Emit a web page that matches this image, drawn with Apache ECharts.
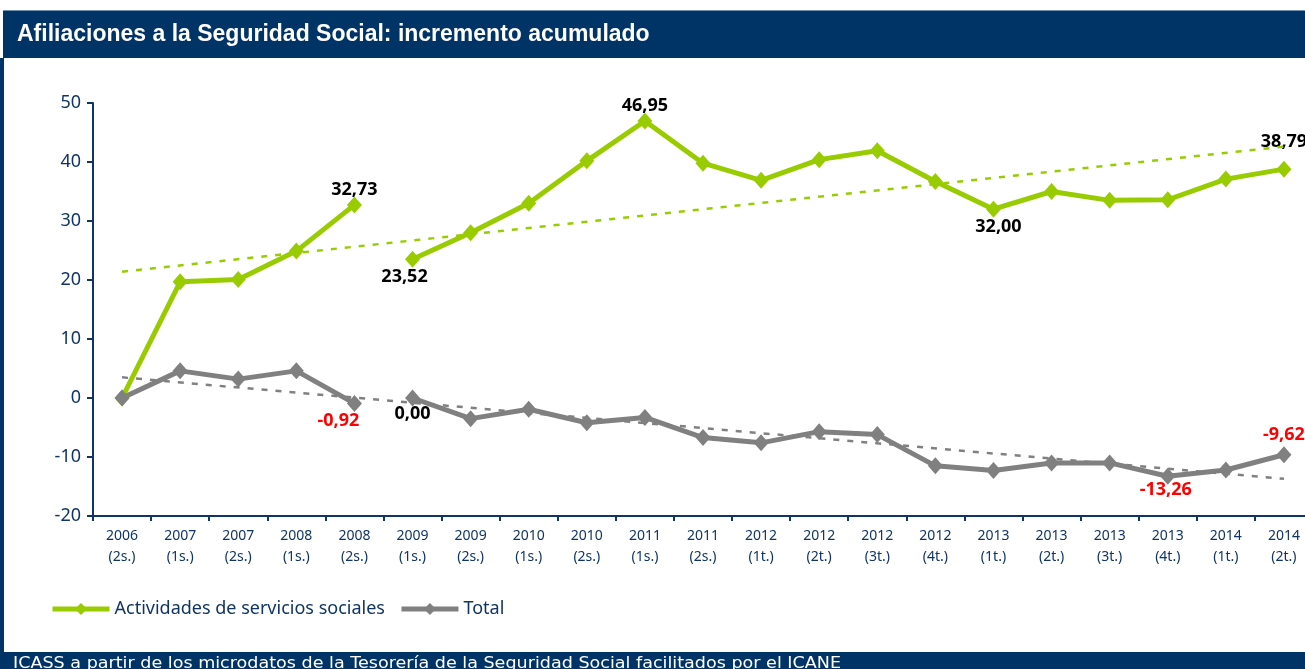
<!DOCTYPE html>
<html>
<head>
<meta charset="utf-8">
<script src="https://cdn.jsdelivr.net/npm/echarts@6/dist/echarts.min.js"></script>
<style>
html,body{margin:0;padding:0;background:#fff;}
#c{width:1305px;height:669px;}
</style>
</head>
<body>
<div id="c"></div>
<script>
// ---- data ----
const categories = ['2006\n(2s.)','2007\n(1s.)','2007\n(2s.)','2008\n(1s.)','2008\n(2s.)','2009\n(1s.)','2009\n(2s.)','2010\n(1s.)','2010\n(2s.)','2011\n(1s.)','2011\n(2s.)','2012\n(1t.)','2012\n(2t.)','2012\n(3t.)','2012\n(4t.)','2013\n(1t.)','2013\n(2t.)','2013\n(3t.)','2013\n(4t.)','2014\n(1t.)','2014\n(2t.)'];
const socialServices = [0, 19.7, 20.1, 24.9, 32.73, 23.52, 28.0, 33.0, 40.2, 46.95, 39.8, 36.9, 40.4, 41.9, 36.7, 32.00, 35.0, 33.5, 33.6, 37.1, 38.79];
const total = [0, 4.6, 3.2, 4.6, -0.92, 0.00, -3.5, -1.9, -4.2, -3.3, -6.7, -7.6, -5.7, -6.2, -11.5, -12.3, -11.0, -11.0, -13.26, -12.2, -9.62];
const socialTrendEnds = [21.4, 42.6];
const totalTrendEnds = [3.5, -13.7];
const segmentBreak = 5; // series restart (no line between index 4 and 5)
const seriesNames = ['Actividades de servicios sociales', 'Total'];
const yTicks = {min: -20, max: 50, interval: 10};

// ---- styling ----
const NAVY = '#0f3466';
const GREEN = '#99CC00';
const GREY = '#808080';
const FONT = '"Noto Sans", sans-serif';

const socialLabels = {
  4: {position: 'top', offset: [0, 4]},
  5: {position: 'bottom', offset: [-8, -2]},
  9: {position: 'top', offset: [0, 4]},
  15: {position: 'bottom', offset: [5, -2]},
  20: {position: 'top', offset: [0, -8]}
};
const totalLabels = {
  4: {position: 'bottom', offset: [-16, -2]},
  5: {position: 'bottom', offset: [0, -4]},
  18: {position: 'bottom', offset: [-2, -6]},
  20: {position: 'top', offset: [0, 0]}
};

function fmt(v){ return v.toFixed(2).replace('.', ','); }

function segment(arr, from, to, labels){
  return arr.map((v, i) => {
    if (i < from || i >= to) return null;
    const l = labels[i];
    if (!l) return v;
    return {value: v, label: {show: true, position: l.position, offset: l.offset,
      color: v < 0 ? '#FF0000' : '#000000', fontWeight: 'bold', fontSize: 18,
      fontFamily: FONT, formatter: p => fmt(p.value), distance: 2}};
  });
}
function trend(ends){
  return categories.map((c, i) => i === 0 ? ends[0] : (i === categories.length - 1 ? ends[1] : null));
}

function lineSeries(name, arr, from, to, color, labels){
  return {
    name: name, type: 'line', data: segment(arr, from, to, labels),
    symbol: 'diamond', symbolSize: [15, 17], showSymbol: true,
    lineStyle: {color: color, width: 5}, itemStyle: {color: color},
    label: {show: false}, emphasis: {disabled: true}, animation: false, z: 3
  };
}

const chart = echarts.init(document.getElementById('c'), null, {renderer: 'canvas'});
const option = {
  animation: false,
  textStyle: {fontFamily: FONT},
  graphic: [
    {type: 'rect', shape: {x: 3, y: 10, width: 1302, height: 48}, style: {fill: '#003366'}, z: 10},
    {type: 'rect', shape: {x: 3, y: 10, width: 1302, height: 1}, style: {fill: '#6f8fb3'}, z: 11},
    {type: 'rect', shape: {x: 0, y: 58, width: 4, height: 594}, style: {fill: '#003366'}, z: 10},
    {type: 'rect', shape: {x: 0, y: 652, width: 1305, height: 17}, style: {fill: '#003366'}, z: 10},
    {type: 'text', x: 17, y: 46, z: 12,
      style: {text: 'Afiliaciones a la Seguridad Social: incremento acumulado', fill: '#ffffff',
        font: 'bold 23px "Liberation Sans", sans-serif', verticalAlign: 'bottom'}},
    {type: 'text', x: 13, y: 672, scaleX: 1.17, z: 12,
      style: {text: 'ICASS a partir de los microdatos de la Tesorería de la Seguridad Social facilitados por el ICANE', fill: '#ffffff',
        font: '15px "DejaVu Sans", sans-serif', verticalAlign: 'bottom'}}
  ],
  legend: {
    data: seriesNames,
    left: 45, top: 595, itemWidth: 57, itemHeight: 15, itemGap: 14,
    lineStyle: {width: 5},
    textStyle: {color: NAVY, fontSize: 18, fontFamily: FONT},
    selectedMode: false
  },
  grid: {left: 93, right: -8, top: 103, bottom: 153, containLabel: false, outerBoundsMode: 'none'},
  xAxis: {
    type: 'category', data: categories, boundaryGap: true,
    axisLine: {onZero: false, lineStyle: {color: NAVY, width: 2}},
    axisTick: {show: true, length: 5, lineStyle: {color: NAVY, width: 2}},
    axisLabel: {color: NAVY, fontSize: 14, lineHeight: 21, margin: 10, interval: 0, fontFamily: FONT},
    splitLine: {show: false}
  },
  yAxis: {
    type: 'value', min: yTicks.min, max: yTicks.max, interval: yTicks.interval,
    axisLine: {show: true, lineStyle: {color: NAVY, width: 2}},
    axisTick: {show: true, length: 6, lineStyle: {color: NAVY, width: 2}},
    axisLabel: {color: NAVY, fontSize: 18, margin: 12, fontFamily: FONT},
    splitLine: {show: false}
  },
  series: [
    lineSeries(seriesNames[0], socialServices, 0, segmentBreak, GREEN, socialLabels),
    lineSeries(seriesNames[0], socialServices, segmentBreak, socialServices.length, GREEN, socialLabels),
    lineSeries(seriesNames[1], total, 0, segmentBreak, GREY, totalLabels),
    lineSeries(seriesNames[1], total, segmentBreak, total.length, GREY, totalLabels),
    {name: 'trendSocial', type: 'line', data: trend(socialTrendEnds), connectNulls: true, showSymbol: false, symbol: 'none',
      lineStyle: {color: GREEN, width: 2.5, type: [6, 8]}, emphasis: {disabled: true}, z: 4, silent: true},
    {name: 'trendTotal', type: 'line', data: trend(totalTrendEnds), connectNulls: true, showSymbol: false, symbol: 'none',
      lineStyle: {color: GREY, width: 2.5, type: [6, 8]}, emphasis: {disabled: true}, z: 4, silent: true}
  ]
};
chart.setOption(option);
</script>
</body>
</html>
